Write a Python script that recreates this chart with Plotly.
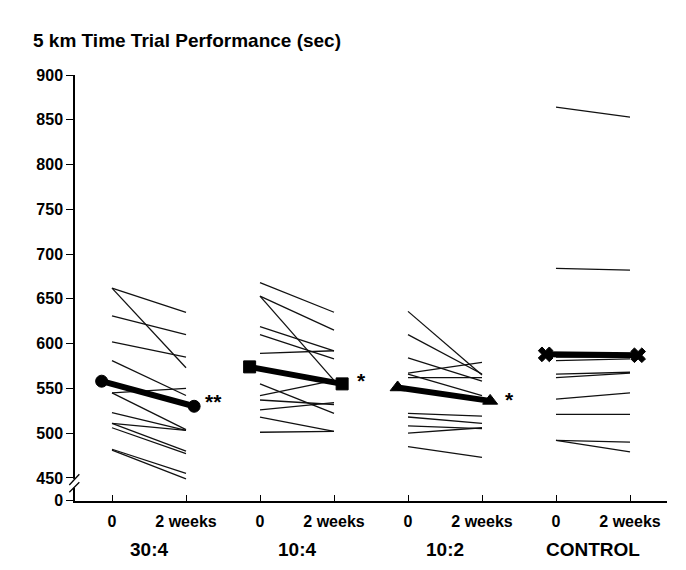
import plotly.graph_objects as go

# data (seconds)
groups = ['30:4', '10:4', '10:2', 'CONTROL']
time_labels = ['0', '2 weeks']

pre_304 = [662, 662, 631, 602, 581, 545, 545, 523, 511, 511, 506, 482, 481]
post_304 = [635, 573, 610, 585, 542, 550, 504, 503, 503, 480, 477, 455, 449]
pre_104 = [668, 653, 653, 619, 610, 589, 555, 542, 537, 526, 518, 501]
post_104 = [635, 615, 559, 592, 583, 592, 522, 559, 532, 534, 502, 502]
pre_102 = [636, 610, 584, 567, 562, 566, 522, 518, 508, 500, 485]
post_102 = [565, 566, 558, 579, 562, 542, 519, 511, 505, 506, 473]
pre_con = [864, 684, 585, 581, 566, 562, 538, 521, 492, 492]
post_con = [853, 682, 585, 583, 568, 567, 545, 521, 490, 479]

mean_pre = [558, 574, 551, 588]
mean_post = [530, 555, 536, 587]
signif = ['**', '*', '*', '']
sig_y = [535, 559, 538, 0]

pre_all = [pre_304, pre_104, pre_102, pre_con]
post_all = [post_304, post_104, post_102, post_con]
mean_symbols = ['circle', 'square', 'triangle-up', 'x']
mean_sizes = [12, 12, 13, 13]

y_floor = 424.5
y_ticks = [450, 500, 550, 600, 650, 700, 750, 800, 850, 900]

FONT = 'Liberation Sans, Arial, sans-serif'
# the page body has an 8px margin, so layout is shifted back by that much
PAD = 8

fig = go.Figure()

for g, name in enumerate(groups):
    x0 = 2 * g
    x1 = 2 * g + 1
    xs = []
    ys = []
    for a, b in zip(pre_all[g], post_all[g]):
        xs += [x0, x1, None]
        ys += [a, b, None]
    fig.add_trace(go.Scatter(x=xs, y=ys, mode='lines',
                             line=dict(color='#111111', width=1.3),
                             showlegend=False, hoverinfo='skip'))
    fig.add_trace(go.Scatter(x=[x0 - 0.14, x1 + 0.11],
                             y=[mean_pre[g], mean_post[g]],
                             mode='lines+markers',
                             line=dict(color='black', width=6),
                             marker=dict(symbol=mean_symbols[g], size=mean_sizes[g],
                                         color='black',
                                         line=dict(color='black', width=1)),
                             showlegend=False, name=name))
    if signif[g]:
        fig.add_annotation(x=x1 + 0.37, y=sig_y[g], text='<b>' + signif[g] + '</b>',
                           showarrow=False, xanchor='center', yanchor='middle',
                           font=dict(family=FONT, size=21, color='black'))
    fig.add_annotation(x=(x0 + x1) / 2, y=-0.113, xref='x', yref='paper',
                       text='<b>' + name + '</b>', showarrow=False,
                       xanchor='center', yanchor='middle',
                       font=dict(family=FONT, size=19, color='black'))

# axis break marks on the y axis
fig.add_shape(type='rect', xref='paper', yref='paper',
              x0=-0.009, x1=0.009, y0=0.031, y1=0.052,
              fillcolor='white', line=dict(width=0), layer='above')
fig.add_shape(type='line', xref='paper', yref='paper',
              x0=-0.0096, y0=0.0376, x1=0.0073, y1=0.0627,
              line=dict(color='black', width=1.3))
fig.add_shape(type='line', xref='paper', yref='paper',
              x0=-0.0096, y0=0.0204, x1=0.0073, y1=0.0439,
              line=dict(color='black', width=1.3))

x_ticks = list(range(2 * len(groups)))
x_text = ['<b>' + time_labels[i % 2] + '</b>' for i in x_ticks]

fig.update_layout(
    width=686, height=570,
    margin=dict(l=75 - PAD, r=19 + PAD, t=75 - PAD, b=69 + PAD),
    plot_bgcolor='white', paper_bgcolor='white',
    font=dict(family=FONT, size=16, color='black'),
    title=dict(text='<b>5 km Time Trial Performance (sec)</b>',
               x=(33 - PAD) / 686, xanchor='left', xref='container',
               y=1 - (40 - PAD) / 570, yanchor='middle',
               font=dict(family=FONT, size=19, color='black')),
    xaxis=dict(range=[-0.5, 7.5], tickmode='array', tickvals=x_ticks,
               ticktext=x_text, ticks='inside', ticklen=6, tickcolor='black',
               showline=True, linecolor='black', linewidth=1.5,
               showgrid=False, zeroline=False, ticklabelstandoff=5),
    yaxis=dict(range=[y_floor - 0.3, 900], tickmode='array',
               tickvals=[y_floor] + y_ticks,
               ticktext=['<b>0</b>'] + ['<b>%d</b>' % v for v in y_ticks],
               ticks='outside', ticklen=7, tickcolor='black',
               showline=True, linecolor='black', linewidth=1.5,
               showgrid=False, zeroline=False),
)

fig.write_html('out.html')
